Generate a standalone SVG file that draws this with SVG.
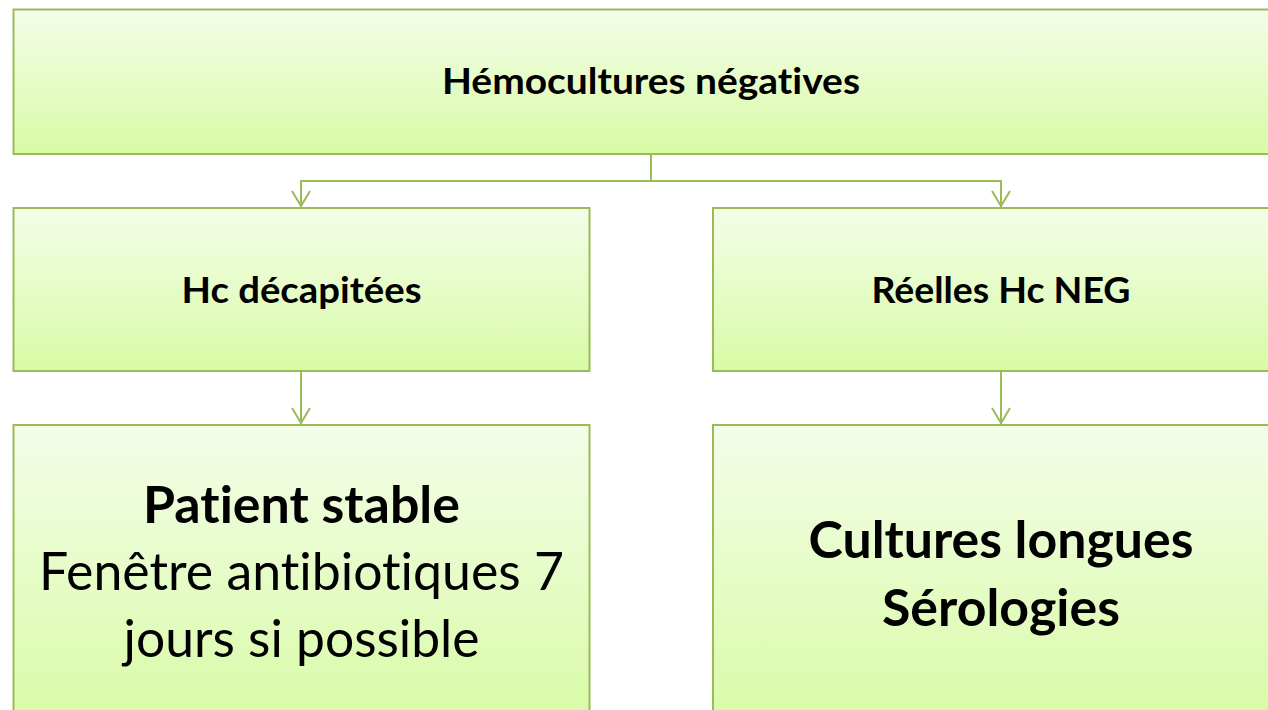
<svg xmlns="http://www.w3.org/2000/svg" width="1268" height="710" viewBox="0 0 1268 710">
  <defs>
    <linearGradient id="fill" x1="0" y1="0" x2="0" y2="1">
      <stop offset="0" stop-color="#f4fde9"/>
      <stop offset="1" stop-color="#d8fba6"/>
    </linearGradient>
    <!-- open V arrowhead, tip at the path end -->
    <marker id="vee" markerUnits="userSpaceOnUse" markerWidth="24" markerHeight="24" viewBox="-18 -12 24 24" refX="0" refY="0" orient="auto">
      <path d="M -16 -9 L -1 0 L -16 9" fill="none" stroke="#9bbb59" stroke-width="2"/>
    </marker>
    <style>
      .box { fill: url(#fill); stroke: #9bbb59; stroke-width: 2; }
      .link { fill: none; stroke: #9bbb59; stroke-width: 2; }
      .t { font-family: Lato, "Open Sans", "Liberation Sans", sans-serif; fill: #000; text-anchor: middle; font-variant-ligatures: none; }
      .b { font-weight: bold; }
    </style>
  </defs>

  <!-- connectors -->
  <g id="connectors">
    <path class="link" d="M 651 154 V 181"/>
    <path class="link" d="M 651 181 H 301 V 207" marker-end="url(#vee)"/>
    <path class="link" d="M 651 181 H 1001 V 207" marker-end="url(#vee)"/>
    <path class="link" d="M 301 371 V 424" marker-end="url(#vee)"/>
    <path class="link" d="M 1001 371 V 424" marker-end="url(#vee)"/>
  </g>

  <!-- root -->
  <g id="node-hemocultures">
    <rect class="box" x="13.5" y="9.5" width="1275" height="144.5"/>
    <text class="t b" x="651" y="94" font-size="36" textLength="418" lengthAdjust="spacingAndGlyphs">Hémocultures négatives</text>
  </g>

  <!-- second level -->
  <g id="node-decapitees">
    <rect class="box" x="13.5" y="208" width="576" height="163"/>
    <text class="t b" x="301.5" y="303" font-size="36" textLength="240" lengthAdjust="spacingAndGlyphs">Hc décapitées</text>
  </g>
  <g id="node-reelles">
    <rect class="box" x="713" y="208" width="576" height="163"/>
    <text class="t b" x="1001" y="303" font-size="36" textLength="259" lengthAdjust="spacingAndGlyphs">Réelles Hc NEG</text>
  </g>

  <!-- third level -->
  <g id="node-patient-stable">
    <rect class="box" x="13.5" y="425" width="576" height="300"/>
    <text class="t b" x="301.5" y="523" font-size="52" textLength="317" lengthAdjust="spacingAndGlyphs">Patient stable</text>
    <text class="t" x="301.5" y="590" font-size="52" textLength="525" lengthAdjust="spacingAndGlyphs">Fenêtre antibiotiques 7</text>
    <text class="t" x="301.5" y="657" font-size="52" textLength="356" lengthAdjust="spacingAndGlyphs">jours si possible</text>
  </g>
  <g id="node-cultures-longues">
    <rect class="box" x="713" y="425" width="576" height="300"/>
    <text class="t b" x="1001" y="558" font-size="52" textLength="385" lengthAdjust="spacingAndGlyphs">Cultures longues</text>
    <text class="t b" x="1001" y="626" font-size="52" textLength="238" lengthAdjust="spacingAndGlyphs">Sérologies</text>
  </g>
</svg>
